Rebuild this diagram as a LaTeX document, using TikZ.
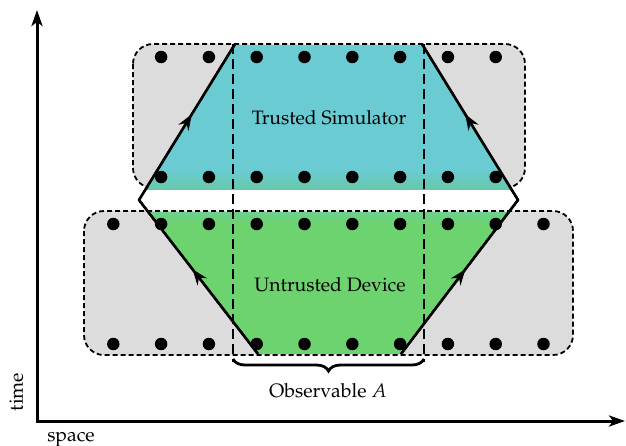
\documentclass[tikz,border=0pt]{standalone}
\usepackage[T1]{fontenc}
\usepackage{mathpazo}
\usetikzlibrary{arrows.meta,decorations.markings,decorations.pathreplacing}
\definecolor{cyanfill}{HTML}{6BCBD3}
\definecolor{greenfill}{HTML}{6DD36E}
\definecolor{tealmix}{HTML}{66C8A8}
\definecolor{greentop}{HTML}{6CCF8E}
\definecolor{greyfill}{HTML}{DCDCDC}
\tikzset{
  regionfill/.style={fill=greyfill, rounded corners=20pt},
  regionline/.style={draw=black, line width=1.8pt, dash pattern=on 5pt off 3pt, rounded corners=20pt},
  site/.style={circle, fill=black, inner sep=0pt, minimum size=12.5pt},
  cone/.style={line width=2.4pt, line join=miter},
  midarrow/.style={postaction={decorate}, decoration={markings, mark=at position 0.55 with {\arrow[line width=1pt]{Stealth[length=16pt,width=12pt,inset=5.5pt]}}}},
  obsline/.style={line width=2.4pt, dash pattern=on 10pt off 5pt},
  axis/.style={line width=3pt, line join=miter, {Stealth[length=16pt,width=11pt,inset=4pt]}-{Stealth[length=16pt,width=11pt,inset=4pt]}},
  lbl/.style={font=\fontsize{19.4}{23}\selectfont, inner sep=0pt}
}
\begin{document}
\begin{tikzpicture}[x=1pt,y=-1pt]
\useasboundingbox (0,0) rectangle (626,445);
% coordinates
\coordinate (O) at (37,421);
\coordinate (T) at (37,10);
\coordinate (S) at (625,421);
\coordinate (L1) at (258,354);
\coordinate (L2) at (139,200);
\coordinate (L3) at (235,44);
\coordinate (R1) at (401,354);
\coordinate (R2) at (518,200);
\coordinate (R3) at (422,44);
\coordinate (A1) at (233,44);
\coordinate (A2) at (233,362);
\coordinate (B1) at (424,44);
\coordinate (B2) at (424,362);
\coordinate (BL) at (233,359);
\coordinate (BR) at (424,359);
% grey regions
\fill[regionfill] (133,44) rectangle (525,188);
\fill[regionfill] (84,211) rectangle (573,355);
\draw[regionline] (133,44) rectangle (525,188);
\draw[regionline] (84,211) rectangle (573,355);
% coloured fills inside the cone
\begin{scope}
  \clip (L3) -- (R3) -- (R2) -- (R1) -- (L1) -- (L2) -- cycle;
  \fill[cyanfill] (100,45) rectangle (560,189.5);
  \shade[top color=cyanfill, bottom color=tealmix] (100,170) rectangle (560,189.5);
  \fill[greenfill] (100,212) rectangle (560,354.2);
  \shade[top color=greentop, bottom color=greenfill] (100,212) rectangle (560,224);
\end{scope}
% sites
\foreach \i in {1,...,8} {
  \node[site] (ta\i) at ({113.3+47.8*\i},57) {};
  \node[site] (tb\i) at ({113.3+47.8*\i},177) {};
}
\foreach \i in {0,...,9} {
  \node[site] (ba\i) at ({113.3+47.8*\i},224) {};
  \node[site] (bb\i) at ({113.3+47.8*\i},344) {};
}
% observable support
\draw[obsline] (A1) -- (A2);
\draw[obsline] (B1) -- (B2);
% light cone
\draw[cone] (L1) -- (L2) -- (L3);
\draw[cone] (R1) -- (R2) -- (R3);
\draw[cone, midarrow] (L1) -- (L2);
\draw[cone, midarrow] (L2) -- (L3);
\draw[cone, midarrow] (R1) -- (R2);
\draw[cone, midarrow] (R2) -- (R3);
% brace
\draw[decorate, decoration={brace, mirror, amplitude=12pt}, line width=2.8pt] (BL) -- (BR);
% labels
\node[lbl, anchor=base] (ts) at (329,124) {Trusted Simulator};
\node[lbl, anchor=base] (ud) at (330,291) {Untrusted Device};
\node[lbl, anchor=base] (obs) at (328,397) {Observable $A$};
% axes
\draw[axis] (T) -- (O) -- (S);
\node[lbl, anchor=base, rotate=90] (time) at (23,392) {time};
\node[lbl, anchor=base] (space) at (71,441) {space};
\end{tikzpicture}
\end{document}
